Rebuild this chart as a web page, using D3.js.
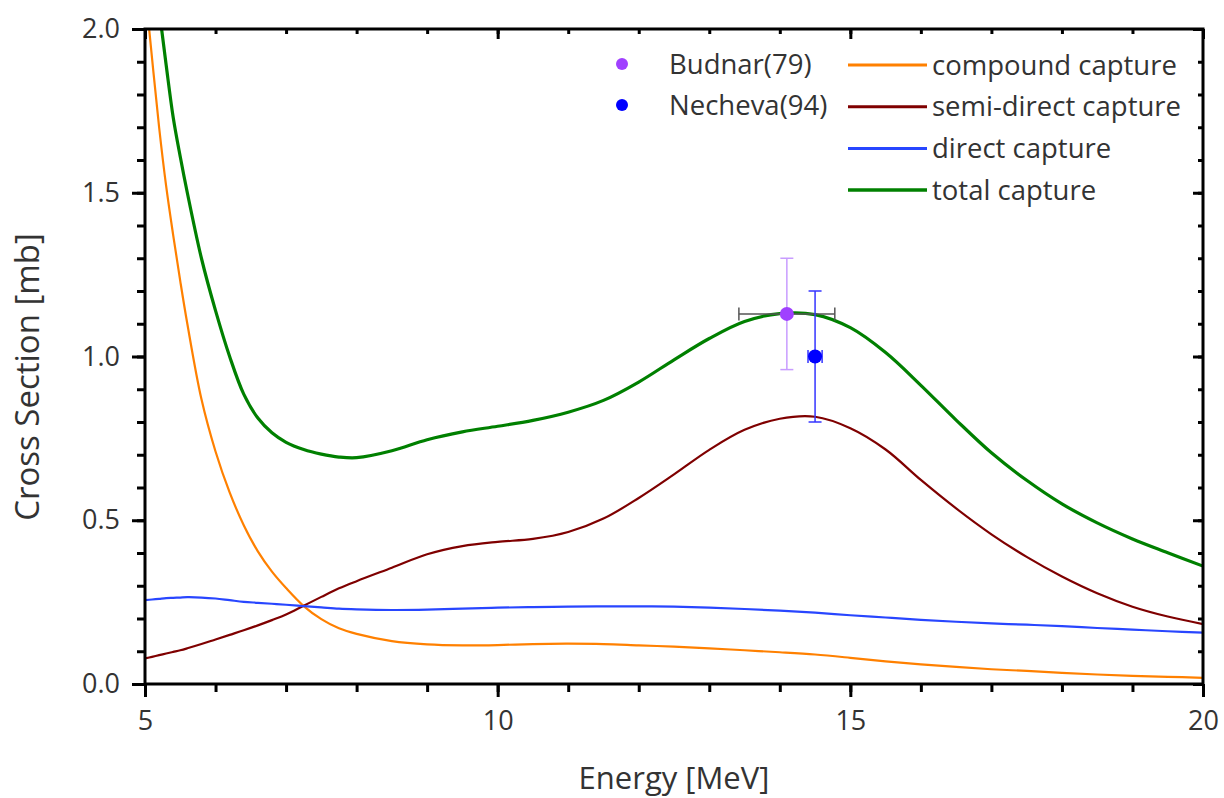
<!DOCTYPE html>
<html><head><meta charset="utf-8">
<script src="https://cdn.jsdelivr.net/npm/d3@7"></script>
<style>
html,body{margin:0;padding:0;background:#fff;}
text{font-family:"Open Sans","Noto Sans",sans-serif;fill:#333;}
</style></head>
<body>
<svg id="chart" width="1224" height="798"></svg>
<script>
// ---- data ----
const energies = [5.0,5.1,5.2,5.3,5.4,5.5,5.6,5.8,6.0,6.2,6.4,6.6,6.8,7.0,7.25,7.5,7.75,8.0,8.5,9.0,9.5,10,10.5,11,11.5,12,12.5,13,13.5,14,14.5,15,15.5,16,16.5,17,17.5,18,18.5,19,19.5,20];
const compound = [2.13,1.91,1.70,1.52,1.37,1.23,1.10,0.87,0.71,0.585,0.485,0.405,0.343,0.293,0.238,0.198,0.170,0.153,0.131,0.121,0.118,0.119,0.122,0.123,0.122,0.118,0.114,0.109,0.103,0.097,0.090,0.080,0.069,0.060,0.052,0.045,0.040,0.034,0.029,0.025,0.022,0.019];
const semiDirect = [0.078,0.083,0.088,0.093,0.098,0.103,0.109,0.122,0.136,0.150,0.164,0.179,0.195,0.212,0.239,0.266,0.292,0.314,0.355,0.396,0.421,0.434,0.443,0.464,0.505,0.568,0.640,0.715,0.776,0.810,0.816,0.781,0.716,0.623,0.536,0.457,0.388,0.328,0.277,0.236,0.206,0.183];
const direct = [0.256,0.258,0.260,0.262,0.263,0.264,0.265,0.264,0.261,0.256,0.251,0.248,0.245,0.242,0.238,0.234,0.230,0.228,0.226,0.227,0.230,0.233,0.235,0.236,0.237,0.237,0.236,0.233,0.229,0.224,0.218,0.210,0.203,0.196,0.190,0.185,0.181,0.177,0.171,0.166,0.161,0.157];
const total = [2.45,2.25,2.06,1.89,1.73,1.61,1.50,1.30,1.14,1.00,0.885,0.812,0.767,0.738,0.716,0.702,0.693,0.691,0.712,0.746,0.770,0.787,0.805,0.830,0.866,0.922,0.990,1.055,1.107,1.131,1.128,1.088,1.012,0.912,0.806,0.706,0.622,0.550,0.492,0.443,0.401,0.36];

const seriesNames = ["compound capture","semi-direct capture","direct capture","total capture"];
const seriesColors = ["#ff8000","#7f0000","#2846ff","#008000"];
const seriesWidths = [2.2,2.2,2.2,3.2];
const seriesValues = [compound, semiDirect, direct, total];

const expNames = ["Budnar(79)","Necheva(94)"];
const expEnergy = [14.1, 14.5];
const expValue = [1.13, 1.0];
const expErrY = [0.17, 0.20];
const expErrX = [0.68, 0.1];
const expColors = ["#a040ff","#0000ff"];
const expErrYColors = ["#c89cff","#3434ff"];
const expErrXColors = ["#555555","#3434ff"];

const xMajorTicks = [5,10,15,20];
const yMajorTicks = [0,0.5,1.0,1.5,2.0];

// ---- layout ----
const svg = d3.select("#chart");
const L = 145, T = 29, R = 1203, B = 684;
const x = d3.scaleLinear().domain([5,20]).range([L,R]);
const y = d3.scaleLinear().domain([0,2]).range([B,T]);

svg.append("defs").append("clipPath").attr("id","clip")
  .append("rect").attr("x",L).attr("y",T).attr("width",R-L).attr("height",B-T);

// curves
const line = d3.line().x(d=>x(d[0])).y(d=>y(d[1])).curve(d3.curveCatmullRom.alpha(0.5));
const gCurves = svg.append("g").attr("clip-path","url(#clip)");
seriesValues.forEach((vals,i)=>{
  gCurves.append("path")
    .datum(energies.map((e,j)=>[e,vals[j]]))
    .attr("d",line).attr("fill","none")
    .attr("stroke",seriesColors[i]).attr("stroke-width",seriesWidths[i])
    .attr("stroke-linejoin","round");
});

// axes
const xMinor = d3.range(5,20.01,1);
const yMinor = d3.range(0,2.001,0.1);
function styleAxis(g){
  g.select(".domain").remove();
  g.selectAll("line").attr("stroke","#000").attr("stroke-width",3);
}
svg.append("g").attr("transform",`translate(0,${B})`)
  .call(d3.axisBottom(x).tickValues(xMinor).tickSize(8).tickFormat(""))
  .call(styleAxis);
const bx = svg.append("g").attr("transform",`translate(0,${B})`)
  .call(d3.axisBottom(x).tickValues(xMajorTicks).tickSize(13).tickPadding(14).tickFormat(d3.format("d")))
  .call(styleAxis);
bx.selectAll("text").attr("font-size",27).attr("fill","#333");
svg.append("g").attr("transform",`translate(${L},0)`)
  .call(d3.axisLeft(y).tickValues(yMinor).tickSize(8).tickFormat(""))
  .call(styleAxis);
const ly = svg.append("g").attr("transform",`translate(${L},0)`)
  .call(d3.axisLeft(y).tickValues(yMajorTicks).tickSize(13).tickPadding(12).tickFormat(d3.format(".1f")))
  .call(styleAxis);
ly.selectAll("text").attr("font-size",27).attr("fill","#333");
svg.append("g").attr("transform",`translate(0,${T})`)
  .call(d3.axisBottom(x).tickValues(xMinor).tickSize(5).tickFormat("")).call(styleAxis);
svg.append("g").attr("transform",`translate(0,${T})`)
  .call(d3.axisBottom(x).tickValues(xMajorTicks).tickSize(10).tickFormat("")).call(styleAxis);
svg.append("g").attr("transform",`translate(${R},0)`)
  .call(d3.axisLeft(y).tickValues(yMinor).tickSize(5).tickFormat("")).call(styleAxis);
svg.append("g").attr("transform",`translate(${R},0)`)
  .call(d3.axisLeft(y).tickValues(yMajorTicks).tickSize(10).tickFormat("")).call(styleAxis);

svg.append("rect").attr("x",L).attr("y",T).attr("width",R-L).attr("height",B-T)
  .attr("fill","none").attr("stroke","#000").attr("stroke-width",3);

// axis titles
svg.append("text").attr("x",(L+R)/2).attr("y",789).attr("text-anchor","middle")
  .attr("font-size",31).text("Energy [MeV]");
svg.append("text").attr("transform",`translate(39,377) rotate(-90)`)
  .attr("text-anchor","middle").attr("font-size",33).text("Cross Section [mb]");

// experimental points
const gExp = svg.append("g");
expNames.forEach((n,i)=>{
  const cx = x(expEnergy[i]), cy = y(expValue[i]);
  const y1 = y(expValue[i]+expErrY[i]), y2 = y(expValue[i]-expErrY[i]);
  const x1 = x(expEnergy[i]-expErrX[i]), x2 = x(expEnergy[i]+expErrX[i]);
  const cap = 6.5;
  gExp.append("line").attr("x1",x1).attr("x2",x2).attr("y1",cy).attr("y2",cy)
    .attr("stroke",expErrXColors[i]).attr("stroke-width",1.5);
  [x1,x2].forEach(xx=>gExp.append("line").attr("x1",xx).attr("x2",xx).attr("y1",cy-cap).attr("y2",cy+cap)
    .attr("stroke",expErrXColors[i]).attr("stroke-width",1.5));
  gExp.append("line").attr("x1",cx).attr("x2",cx).attr("y1",y1).attr("y2",y2)
    .attr("stroke",expErrYColors[i]).attr("stroke-width",1.5);
  [y1,y2].forEach(yy=>gExp.append("line").attr("x1",cx-cap).attr("x2",cx+cap).attr("y1",yy).attr("y2",yy)
    .attr("stroke",expErrYColors[i]).attr("stroke-width",1.5));
  gExp.append("circle").attr("cx",cx).attr("cy",cy).attr("r",7).attr("fill",expColors[i]);
});

// legend
const leg = svg.append("g");
expNames.forEach((n,i)=>{
  const yy = 64 + i*41;
  leg.append("circle").attr("cx",622).attr("cy",yy).attr("r",6).attr("fill",expColors[i]);
  leg.append("text").attr("x",669).attr("y",yy).attr("dy","0.35em").attr("font-size",27.5).text(n);
});
seriesNames.forEach((n,i)=>{
  const yy = 65 + i*41.7;
  leg.append("line").attr("x1",848).attr("x2",927).attr("y1",yy).attr("y2",yy)
    .attr("stroke",seriesColors[i]).attr("stroke-width",i===3?3.5:3);
  leg.append("text").attr("x",932).attr("y",yy).attr("dy","0.35em").attr("font-size",27.5).text(n);
});
</script>
</body></html>
